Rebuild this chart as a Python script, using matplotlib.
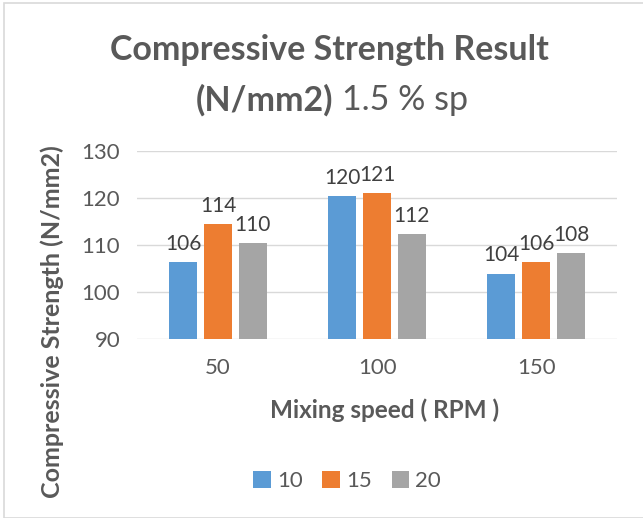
import matplotlib.pyplot as plt
import numpy as np
from matplotlib.patches import Rectangle

plt.rcParams['font.family'] = ['Lato', 'DejaVu Sans']

speeds = ["50", "100", "150"]
series = ["10", "15", "20"]
strength_10 = [106.3, 120.4, 103.9]
strength_15 = [114.4, 121.1, 106.3]
strength_20 = [110.4, 112.3, 108.3]
colors = ["#5b9bd5", "#ed7d31", "#a5a5a5"]

fig = plt.figure(figsize=(6.43, 5.18), dpi=100)
ax = fig.add_axes([0.213, 0.346, 0.747, 0.362])

x = np.arange(len(speeds))
width = 0.175
step = 0.219
handles = []
for i, (vals, name) in enumerate(zip([strength_10, strength_15, strength_20], series)):
    bars = ax.bar(x + (i - 1) * step, vals, width, color=colors[i], label=name, zorder=3)
    ax.bar_label(bars, labels=[f"{v:.0f}" for v in vals], padding=6,
                 fontsize=15, color="#404040")
    handles.append(bars)

ax.set_ylim(90, 130)
ax.set_xlim(-0.51, 2.51)
ax.set_yticks([90, 100, 110, 120, 130])
ax.set_xticks(x)
ax.set_xticklabels(speeds)
ax.tick_params(length=0, labelsize=16, labelcolor="#595959", pad=12)
ax.tick_params(axis="x", pad=14)
ax.grid(axis="y", color="#d9d9d9", linewidth=1, zorder=0)
for s in ax.spines.values():
    s.set_visible(False)

# title, with the units in bold and the dosage in regular weight
fig.text(0.512, 1 - 50 / 518, "Compressive Strength Result", ha="center", va="center",
         fontsize=24.5, fontweight="bold", color="#595959")
fig.text(333 / 643, 1 - 100 / 518, "(N/mm2)", ha="right", va="center",
         fontsize=24.5, fontweight="bold", color="#595959")
fig.text(342 / 643, 1 - 100 / 518, "1.5 % sp", ha="left", va="center",
         fontsize=24.5, color="#595959")

fig.text(385 / 643, 1 - 410 / 518, "Mixing speed ( RPM )", ha="center", va="center",
         fontsize=17.5, fontweight="bold", color="#595959")
fig.text(52 / 643, 1 - 322 / 518, "Compressive Strength (N/mm2)", ha="center", va="center",
         rotation=90, fontsize=18, fontweight="bold", color="#595959")

fig.legend(handles=handles, loc="center", bbox_to_anchor=(347 / 643, 1 - 481 / 518),
           ncol=3, frameon=False, fontsize=16, labelcolor="#595959",
           handlelength=0.8, handleheight=0.8, handletextpad=0.25, columnspacing=0.9)

fig.patches.append(Rectangle((4 / 643, 0), 1, 1 - 3 / 518, transform=fig.transFigure,
                             fill=False, edgecolor="#d9d9d9", linewidth=1.2))

fig.savefig("out.png", dpi=100, facecolor="white")
